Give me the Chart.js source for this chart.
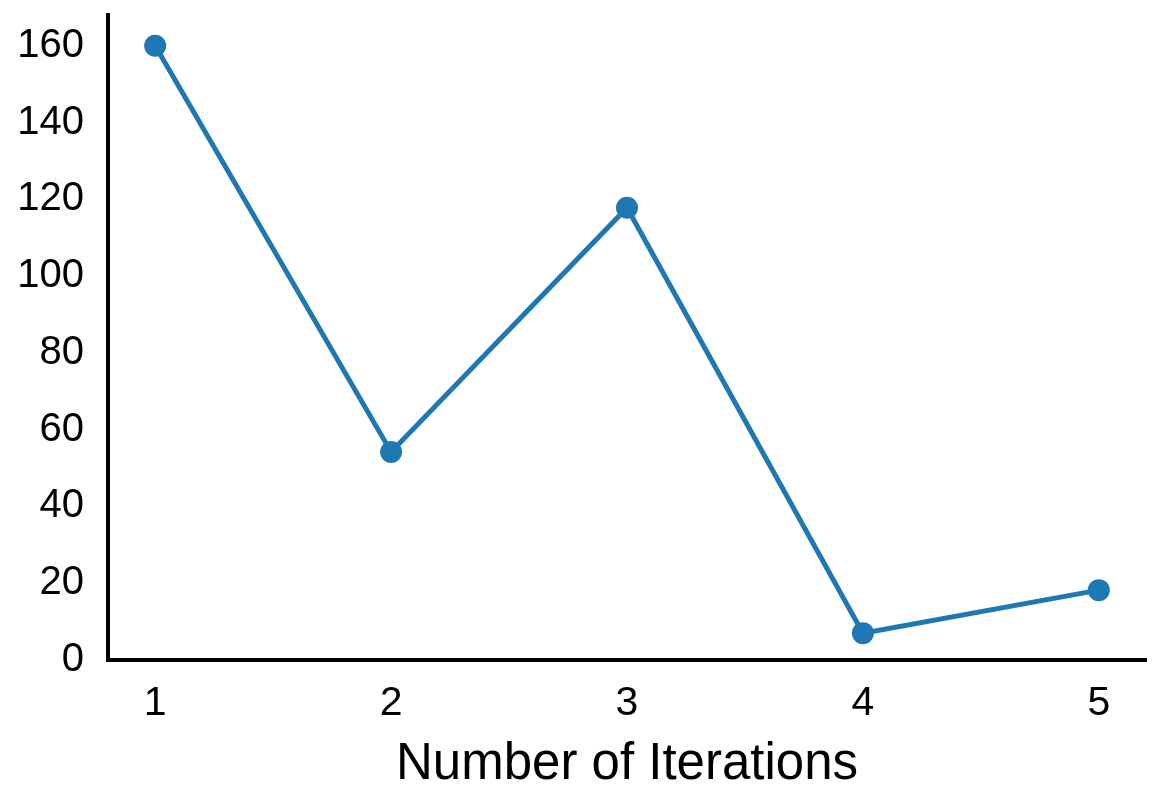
<!DOCTYPE html>
<html>
<head>
<meta charset="utf-8">
<script src="https://cdn.jsdelivr.net/npm/chart.js@4"></script>
<style>
    html, body { margin: 0; padding: 0; background: #fff; }
    #wrap { width: 1163px; height: 809px; }
</style>
</head>
<body>
<div id="wrap"><canvas id="chart" width="1163" height="809"></canvas></div>
<script>
const iterations = [1, 2, 3, 4, 5];
const values = [160, 54.2, 117.8, 7, 18.2];
const yTicks = [0, 20, 40, 60, 80, 100, 120, 140, 160];
const xTitle = 'Number of Iterations';

const font = 'Liberation Sans, Arial, sans-serif';
const blue = '#1f77b4';

const points = iterations.map((x, i) => ({ x: x, y: values[i] }));

new Chart(document.getElementById('chart').getContext('2d'), {
    type: 'line',
    data: {
        datasets: [{
            data: points,
            borderColor: blue,
            backgroundColor: blue,
            borderWidth: 5,
            pointRadius: 11,
            pointHoverRadius: 11,
            pointBorderWidth: 0,
            tension: 0
        }]
    },
    options: {
        responsive: false,
        animation: false,
        layout: { padding: { top: 15, right: 17, left: 0, bottom: 0 } },
        plugins: { legend: { display: false }, tooltip: { enabled: false } },
        scales: {
            x: {
                type: 'linear',
                min: 0.8,
                max: 5.2,
                grid: { display: false, drawTicks: false },
                border: { display: true, color: '#000', width: 4 },
                afterBuildTicks: axis => { axis.ticks = iterations.map(v => ({ value: v })); },
                afterFit: axis => {
                    axis.height = 149;
                    axis.paddingLeft = 0;
                    axis.paddingRight = 0;
                },
                ticks: { color: '#000', font: { family: font, size: 41 }, padding: 19, maxRotation: 0 },
                title: { display: true, text: xTitle, color: '#000', font: { family: font, size: 51 }, padding: { top: 4, bottom: 13 } }
            },
            y: {
                min: 0,
                max: 168,
                grid: { display: false, drawTicks: false },
                border: { display: true, color: '#000', width: 4 },
                afterBuildTicks: axis => { axis.ticks = yTicks.map(v => ({ value: v })); },
                afterFit: axis => {
                    axis.width = 108;
                    axis.paddingTop = 0;
                    axis.paddingBottom = 0;
                },
                ticks: { color: '#000', font: { family: font, size: 40 }, padding: 24 }
            }
        }
    }
});
</script>
</body>
</html>
